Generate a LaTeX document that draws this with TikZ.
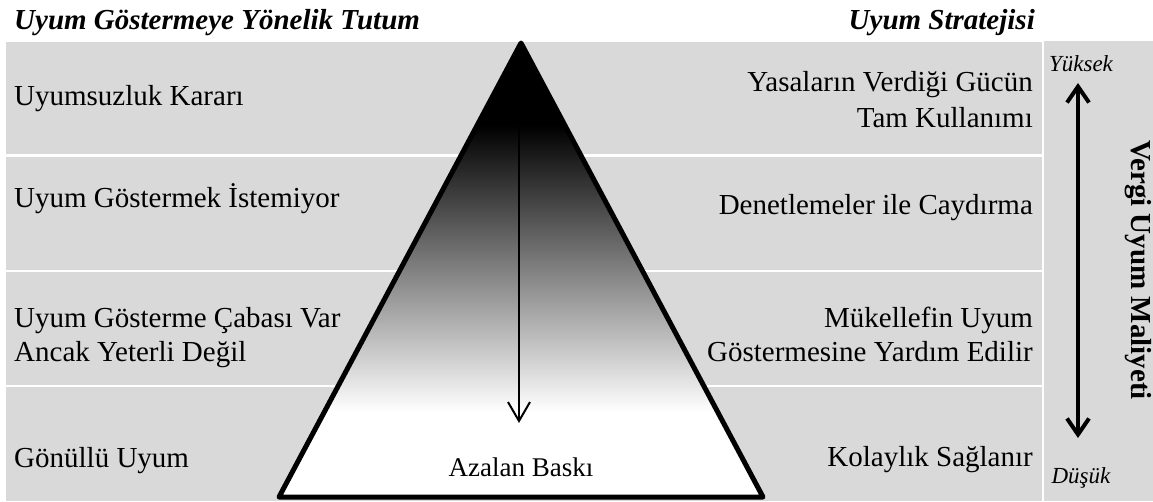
\documentclass[tikz,border=0pt]{standalone}
\usepackage{fontspec}
\setmainfont{Liberation Serif}
\usetikzlibrary{arrows.meta}
\definecolor{bandgray}{RGB}{217,217,217}

\begin{document}
\begin{tikzpicture}[x=1pt,y=-1pt,
  lefttxt/.style={anchor=base west,inner sep=0pt,font=\fontsize{29}{34}\selectfont},
  righttxt/.style={anchor=base east,inner sep=0pt,font=\fontsize{29}{34}\selectfont},
  headtxt/.style={inner sep=0pt,font=\fontsize{29}{34}\selectfont\bfseries\itshape},
  endtxt/.style={anchor=base,inner sep=0pt,font=\fontsize{23}{27}\selectfont\itshape}]
  \useasboundingbox (0,0) rectangle (1153,501);
  % gray bands
  \foreach \ya/\yb in {42/154,157/270,272/385,387/501}
    \fill[bandgray] (6,\ya) rectangle (1042,\yb);
  \fill[bandgray] (1044,41) rectangle (1153,501);
  % pyramid: black at the top, fading to white
  \begin{scope}
    \clip (521,43) -- (763,497) -- (279,497) -- cycle;
    \fill[black] (270,30) rectangle (770,125);
    \shade[top color=black,bottom color=white] (270,125) rectangle (770,412);
    \fill[white] (270,412) rectangle (770,505);
  \end{scope}
  \draw[line width=5pt,line join=round] (521,43) -- (763,497) -- (279,497) -- cycle;
  \coordinate (ptop) at (519,90);
  \coordinate (pbot) at (519,423);
  \draw[line width=2pt,-{Straight Barb[length=19pt,width=22pt]}] (ptop) -- (pbot);
  \node[anchor=base,inner sep=0pt,font=\fontsize{27}{32}\selectfont] (baski) at (521,476) {Azalan Baskı};
  % headings
  \node[headtxt,anchor=base west] (tutum) at (14,29) {Uyum Göstermeye Yönelik Tutum};
  \node[headtxt,anchor=base east] (strateji) at (1035,29) {Uyum Stratejisi};
  % attitude (left)
  \node[lefttxt] (karar) at (14,105) {Uyumsuzluk Kararı};
  \node[lefttxt] (istemiyor) at (14,207) {Uyum Göstermek İstemiyor};
  \node[lefttxt] (caba) at (14,327) {Uyum Gösterme Çabası Var};
  \node[lefttxt] (yetersiz) at (14,361) {Ancak Yeterli Değil};
  \node[lefttxt] (gonullu) at (14,467) {Gönüllü Uyum};
  % strategy (right)
  \node[righttxt] (yasa) at (1033,91) {Yasaların Verdiği Gücün};
  \node[righttxt] (tam) at (1033,127) {Tam Kullanımı};
  \node[righttxt] (denetim) at (1033,214) {Denetlemeler ile Caydırma};
  \node[righttxt] (mukellef) at (1033,327) {Mükellefin Uyum};
  \node[righttxt] (yardim) at (1033,361) {Göstermesine Yardım Edilir};
  \node[righttxt] (kolaylik) at (1033,466) {Kolaylık Sağlanır};
  % cost axis
  \node[endtxt] (yuksek) at (1081,71) {Yüksek};
  \node[endtxt] (dusuk) at (1081,483) {Düşük};
  \coordinate (ctop) at (1078,83);
  \coordinate (cbot) at (1078,438);
  \draw[line width=4pt,{Straight Barb[length=16pt,width=22pt]}-{Straight Barb[length=16pt,width=22pt]}] (ctop) -- (cbot);
  \node[rotate=-90,anchor=base,inner sep=0pt,font=\fontsize{29}{34}\selectfont\bfseries] (maliyet) at (1131,270) {Vergi Uyum Maliyeti};
\end{tikzpicture}
\end{document}
